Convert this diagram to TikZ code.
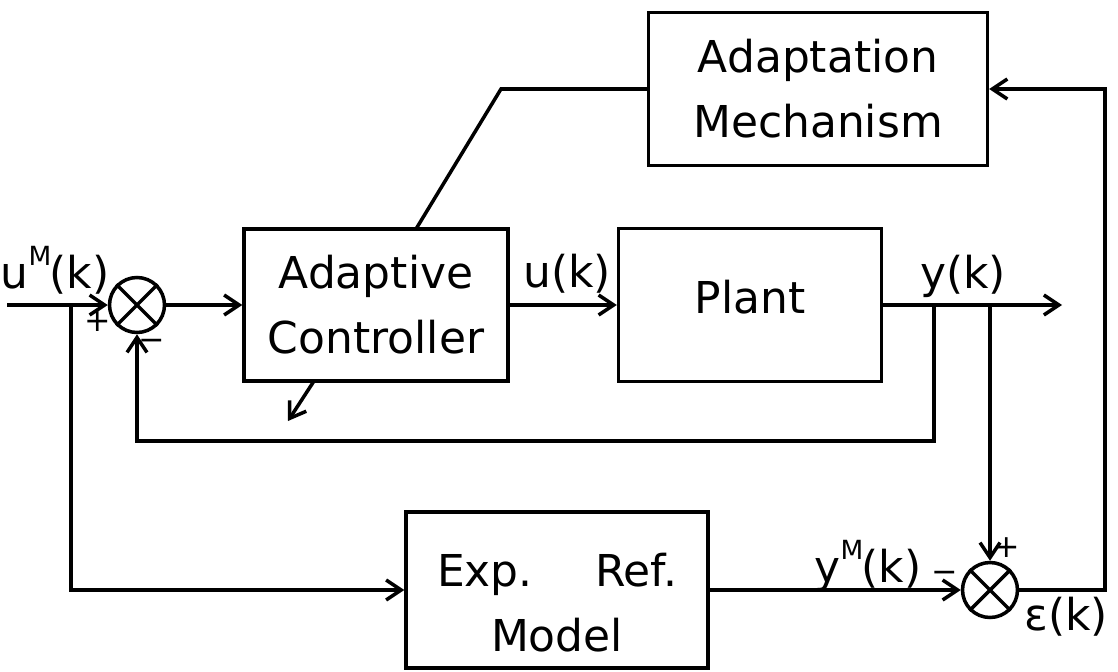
\documentclass[tikz,border=0pt]{standalone}
\usepackage{fontspec}
\setmainfont{DejaVu Sans}
\usetikzlibrary{arrows.meta}
\tikzset{
  blockbox/.style={draw, line width=2pt, fill=white, inner sep=1pt, align=center, font=\fontsize{25}{37}\selectfont},
  sumnode/.style={draw, circle, line width=2pt, minimum size=1.1cm, inner sep=0pt},
  sigline/.style={line width=2pt},
  sigarrow/.style={line width=2pt, -{Straight Barb[length=3mm,width=4mm]}},
  siglabel/.style={inner sep=0pt, font=\fontsize{25}{30}\selectfont},
  signlabel/.style={inner sep=0pt, font=\fontsize{18}{20}\selectfont}
}
\newcommand{\supM}{\raisebox{13pt}{\fontsize{15}{16}\selectfont M}\kern-1pt}

\begin{document}
\begin{tikzpicture}[x=0.02cm, y=-0.02cm]
  \useasboundingbox (0,0) rectangle (1118,672);
  \node[blockbox, minimum width=6.78cm, minimum height=3.06cm] (adapt) at (818,89) {Adaptation\\Mechanism};
  \node[blockbox, minimum width=5.28cm, minimum height=3.04cm] (ctrl) at (376,305) {Adaptive\\Controller};
  \node[blockbox, minimum width=5.26cm, minimum height=3.06cm, text depth=9pt] (plant) at (750,305) {Plant};
  \node[blockbox, minimum width=6.04cm, minimum height=3.12cm] (ref) at (557,590) {\rule{0pt}{33pt}Exp. \quad Ref.\\Model};
  \node[sumnode] (s1) at (137,305) {};
  \node[sumnode] (s2) at (990,590) {};
  \draw[sigline] (s1.north west) -- (s1.south east) (s1.north east) -- (s1.south west);
  \draw[sigline] (s2.north west) -- (s2.south east) (s2.north east) -- (s2.south west);

  \coordinate (in) at (7,305);
  \coordinate (b1) at (71,305);
  \coordinate (b2) at (934,305);
  \coordinate (b3) at (990,305);
  \coordinate (out) at (1062,305);
  \coordinate (fb) at (934,441);
  \coordinate (c1) at (1105,590);
  \coordinate (k1) at (501,89);
  \coordinate (t1) at (416,229);
  \coordinate (t2) at (314,381);
  \coordinate (tip) at (288,421);

  \draw[sigarrow] (in) -- (s1.west);
  \draw[sigarrow] (s1.east) -- (ctrl.west);
  \draw[sigarrow] (ctrl.east) -- (plant.west);
  \draw[sigarrow] (plant.east) -- (out);
  \draw[sigarrow] (b2) -- (fb) -| (s1.south);
  \draw[sigarrow] (b3) -- (s2.north);
  \draw[sigarrow] (b1) |- (ref.west);
  \draw[sigarrow] (ref.east) -- (s2.west);
  \draw[sigarrow] (s2.east) -- (c1) |- (adapt.east);
  \draw[sigline] (adapt.west) -- (k1) -- (t1);
  \draw[sigarrow] (t2) -- (tip);

  \node[siglabel, anchor=base] (lum) at (55,288) {u\supM(k)};
  \node[siglabel] (lu) at (567,274) {u(k)};
  \node[siglabel] (ly) at (963,276) {y(k)};
  \node[siglabel, anchor=base] (lym) at (868,582) {y\supM(k)};
  \node[siglabel] (le) at (1066,617) {ε(k)};
  \node[signlabel] (p1) at (98,322) {+};
  \node[signlabel] (m1) at (152,345) {−};
  \node[signlabel] (p2) at (1007,548) {+};
  \node[signlabel] (m2) at (945,577) {−};
\end{tikzpicture}
\end{document}
